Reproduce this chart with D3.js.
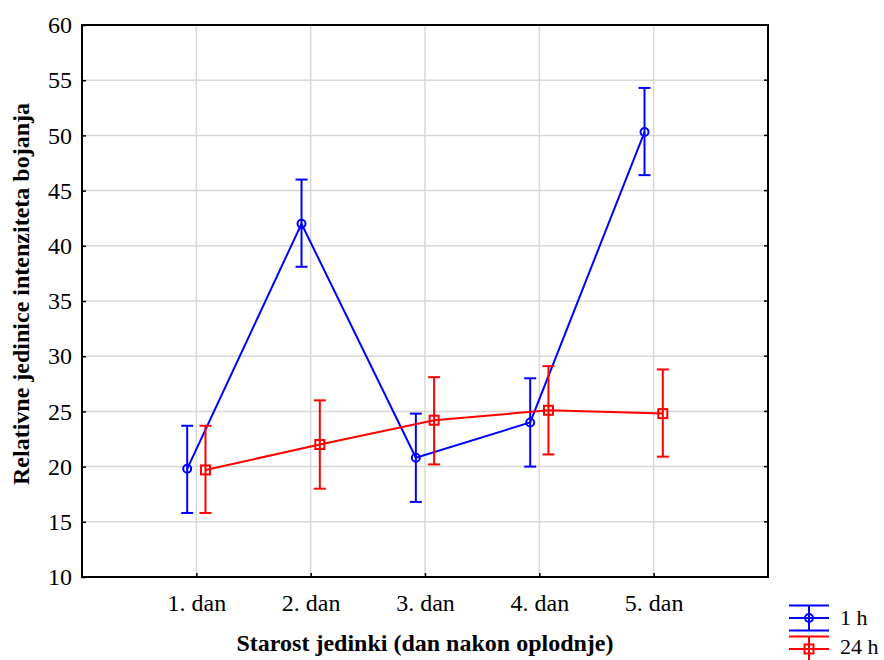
<!DOCTYPE html>
<html>
<head>
<meta charset="utf-8">
<script src="https://cdn.jsdelivr.net/npm/d3@7"></script>
<style>
  body { margin: 0; background: #fff; }
</style>
</head>
<body>
<div id="chart"></div>
<script>
const days = ["1. dan", "2. dan", "3. dan", "4. dan", "5. dan"];
const yTicks = [10, 15, 20, 25, 30, 35, 40, 45, 50, 55, 60];

// 1 h series: mean, upper, lower
const mean1h = [19.8, 42.0, 20.8, 24.0, 50.3];
const upper1h = [23.7, 46.0, 24.8, 28.0, 54.3];
const lower1h = [15.8, 38.1, 16.8, 20.0, 46.4];

// 24 h series
const mean24h = [19.7, 22.0, 24.2, 25.1, 24.8];
const upper24h = [23.7, 26.0, 28.1, 29.1, 28.8];
const lower24h = [15.8, 18.0, 20.2, 21.1, 20.9];

const serif = "'Liberation Serif', 'Times New Roman', serif";
const width = 884;
const height = 660;
const margin = { top: 25, right: 116, bottom: 83, left: 82 };

const svg = d3.select("#chart")
  .append("svg")
  .attr("width", width)
  .attr("height", height);

const x = d3.scaleLinear()
  .domain([0, 6])
  .range([margin.left, width - margin.right]);

const y = d3.scaleLinear()
  .domain([10, 60])
  .range([height - margin.bottom, margin.top]);

// gridlines
svg.append("g")
  .selectAll("line")
  .data(yTicks.slice(1, -1))
  .enter().append("line")
  .attr("x1", margin.left).attr("x2", width - margin.right)
  .attr("y1", d => y(d)).attr("y2", d => y(d))
  .attr("stroke", "#d8d8d8").attr("stroke-width", 1.5);

svg.append("g")
  .selectAll("line")
  .data(days)
  .enter().append("line")
  .attr("x1", (d, i) => x(i + 1)).attr("x2", (d, i) => x(i + 1))
  .attr("y1", margin.top).attr("y2", height - margin.bottom)
  .attr("stroke", "#d8d8d8").attr("stroke-width", 1.5);

// axes
const yAxis = svg.append("g")
  .attr("transform", `translate(${margin.left},0)`)
  .call(d3.axisLeft(y).tickValues(yTicks).tickSize(-4).tickPadding(10));

const xAxis = svg.append("g")
  .attr("transform", `translate(0,${height - margin.bottom})`)
  .call(d3.axisBottom(x).tickValues([1, 2, 3, 4, 5]).tickFormat((d, i) => days[i]).tickSize(-4).tickPadding(17));

[xAxis, yAxis].forEach(a => {
  a.select(".domain").remove();
  a.selectAll(".tick line").attr("stroke", "#000").attr("stroke-width", 1.5);
  a.selectAll(".tick text").attr("fill", "#000")
    .style("font-family", serif).style("font-size", "24px");
});

// right side ticks
svg.append("g")
  .selectAll("line")
  .data(yTicks)
  .enter().append("line")
  .attr("x1", width - margin.right).attr("x2", width - margin.right - 4)
  .attr("y1", d => y(d)).attr("y2", d => y(d))
  .attr("stroke", "#000").attr("stroke-width", 1.5);

svg.append("rect")
  .attr("x", margin.left).attr("y", margin.top)
  .attr("width", width - margin.left - margin.right)
  .attr("height", height - margin.top - margin.bottom)
  .attr("fill", "none").attr("stroke", "#000").attr("stroke-width", 2);

// series
const series = [
  { name: "1 h", color: "#0000ff", mean: mean1h, upper: upper1h, lower: lower1h, off: -0.08, shape: "circle" },
  { name: "24 h", color: "#ff0000", mean: mean24h, upper: upper24h, lower: lower24h, off: 0.08, shape: "square" }
];

const line = d3.line().x(d => d[0]).y(d => d[1]);

series.forEach(s => {
  const pts = s.mean.map((v, i) => [x(i + 1 + s.off), y(v)]);
  const g = svg.append("g");

  g.append("path")
    .attr("d", line(pts))
    .attr("fill", "none").attr("stroke", s.color).attr("stroke-width", 2);

  const bars = g.selectAll(".err")
    .data(s.mean.map((v, i) => ({ i, hi: s.upper[i], lo: s.lower[i] })))
    .enter().append("g");

  bars.append("line")
    .attr("x1", d => x(d.i + 1 + s.off)).attr("x2", d => x(d.i + 1 + s.off))
    .attr("y1", d => y(d.hi)).attr("y2", d => y(d.lo))
    .attr("stroke", s.color).attr("stroke-width", 2);
  ["hi", "lo"].forEach(k => {
    bars.append("line")
      .attr("x1", d => x(d.i + 1 + s.off) - 6).attr("x2", d => x(d.i + 1 + s.off) + 6)
      .attr("y1", d => y(d[k])).attr("y2", d => y(d[k]))
      .attr("stroke", s.color).attr("stroke-width", 2);
  });

  if (s.shape === "circle") {
    g.selectAll("circle").data(pts).enter().append("circle")
      .attr("cx", d => d[0]).attr("cy", d => d[1]).attr("r", 4)
      .attr("fill", "none").attr("stroke", s.color).attr("stroke-width", 2);
  } else {
    g.selectAll("rect").data(pts).enter().append("rect")
      .attr("x", d => d[0] - 4.5).attr("y", d => d[1] - 4.5)
      .attr("width", 9).attr("height", 9)
      .attr("fill", "none").attr("stroke", s.color).attr("stroke-width", 2);
  }
});

// axis titles
svg.append("text")
  .attr("x", x(3)).attr("y", 651)
  .attr("text-anchor", "middle")
  .style("font-family", serif).style("font-size", "24px").style("font-weight", "bold")
  .text("Starost jedinki (dan nakon oplodnje)");

svg.append("text")
  .attr("transform", `translate(29,294) rotate(-90)`)
  .attr("text-anchor", "middle")
  .style("font-family", serif).style("font-size", "24px").style("font-weight", "bold")
  .text("Relativne jedinice intenziteta bojanja");

// legend
const legend = svg.append("g");
series.forEach((s, k) => {
  const cy = 618 + k * 31;
  const lg = legend.append("g");
  [-12.5, 0, 12.5].forEach(dy => {
    lg.append("line")
      .attr("x1", 789).attr("x2", 829)
      .attr("y1", cy + dy).attr("y2", cy + dy)
      .attr("stroke", s.color).attr("stroke-width", 2);
  });
  lg.append("line")
    .attr("x1", 809).attr("x2", 809)
    .attr("y1", cy - 12.5).attr("y2", cy + 12.5)
    .attr("stroke", s.color).attr("stroke-width", 2);
  if (s.shape === "circle") {
    lg.append("circle").attr("cx", 809).attr("cy", cy).attr("r", 4)
      .attr("fill", "none").attr("stroke", s.color).attr("stroke-width", 2);
  } else {
    lg.append("rect").attr("x", 804.5).attr("y", cy - 4.5).attr("width", 9).attr("height", 9)
      .attr("fill", "none").attr("stroke", s.color).attr("stroke-width", 2);
  }
  lg.append("text")
    .attr("x", 840).attr("y", cy + 7 - k * 2)
    .style("font-family", serif).style("font-size", "22px")
    .text(s.name);
});
</script>
</body>
</html>
